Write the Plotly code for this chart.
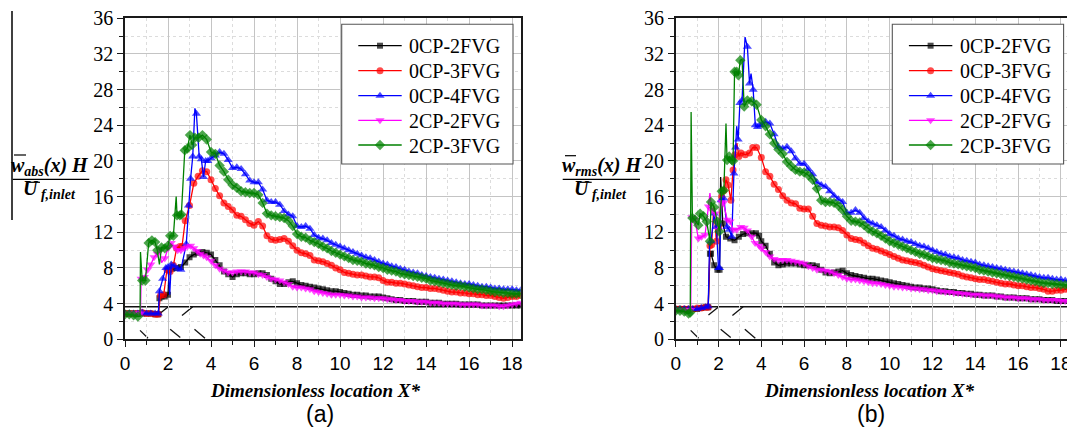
import plotly.graph_objects as go

W, H = 1067, 432

# ---------------------------------------------------------------- data
# common downstream stations (X* = 4.0 ... 18.4)
TAIL_X = [4.0, 4.2, 4.4, 4.6, 4.8, 5.0, 5.2, 5.4, 5.6, 5.8,
          6.0, 6.2, 6.4, 6.6, 6.8, 7.0, 7.2, 7.4, 7.6, 7.8,
          8.0, 8.2, 8.4, 8.6, 8.8, 9.0, 9.2, 9.4, 9.6, 9.8,
          10.0, 10.2, 10.4, 10.6, 10.8, 11.0, 11.2, 11.4, 11.6, 11.8,
          12.0, 12.2, 12.4, 12.6, 12.8, 13.0, 13.2, 13.4, 13.6, 13.8,
          14.0, 14.2, 14.4, 14.6, 14.8, 15.0, 15.2, 15.4, 15.6, 15.8,
          16.0, 16.2, 16.4, 16.6, 16.8, 17.0, 17.2, 17.4, 17.6, 17.8,
          18.0, 18.2, 18.4]

LABELS = ["0CP-2FVG", "0CP-3FVG", "0CP-4FVG", "2CP-2FVG", "2CP-3FVG"]

# ---- panel (a): w_abs
A_BLACK_HX = [0.0, 0.2, 0.4, 0.6, 0.8, 1.0, 1.2, 1.4, 1.55, 1.6, 1.7, 1.85, 2.0, 2.05, 2.2, 2.4, 2.6, 2.8, 3.0, 3.2, 3.4, 3.6, 3.8]
A_BLACK_HY = [2.9, 2.9, 2.9, 2.9, 2.9, 2.9, 2.9, 2.8, 2.8, 4.6, 4.8, 4.8, 5.0, 7.8, 7.9, 8.0, 8.1, 8.6, 9.2, 9.5, 9.7, 9.8, 9.7]
A_BLACK_TY = [9.5, 8.9, 8.3, 7.6, 7.3, 7.0, 7.3, 7.4, 7.4, 7.3,
              7.3, 7.4, 7.4, 7.2, 6.8, 6.5, 6.2, 6.2, 6.4, 6.5,
              6.3, 6.1, 6.0, 5.9, 5.8, 5.7, 5.6, 5.5, 5.4, 5.4,
              5.3, 5.2, 5.1, 5.0, 5.0, 4.9, 4.9, 4.8, 4.8, 4.8,
              4.7, 4.6, 4.5, 4.4, 4.4, 4.3, 4.3, 4.3, 4.2, 4.2,
              4.2, 4.1, 4.1, 4.1, 4.0, 4.0, 4.0, 4.0, 3.9, 3.9,
              3.9, 3.9, 3.9, 3.8, 3.8, 3.8, 3.8, 3.8, 3.8, 3.8,
              3.8, 3.8, 3.8]
A_BLACK_BARE = []

A_RED_HX = [0.0, 0.2, 0.4, 0.6, 0.8, 1.0, 1.2, 1.4, 1.55, 1.65, 1.8, 1.95, 2.1, 2.25, 2.4, 2.55, 2.65, 2.8, 3.0, 3.2, 3.4, 3.6, 3.8]
A_RED_HY = [2.9, 2.9, 2.9, 2.9, 3.0, 2.9, 2.9, 2.8, 2.8, 4.9, 5.0, 7.8, 7.6, 8.3, 10.2, 10.4, 10.4, 13.3, 15.0, 17.5, 18.3, 18.9, 18.8]
A_RED_TY = [17.9, 16.9, 16.1, 15.3, 14.9, 14.5, 13.9, 13.8, 13.4, 13.0,
            12.8, 13.2, 12.7, 11.6, 11.2, 11.1, 11.2, 11.3, 11.0, 10.5,
            10.0, 9.7, 9.6, 9.4, 8.9, 8.8, 8.7, 8.5, 8.3, 8.0,
            7.8, 7.5, 7.4, 7.3, 7.2, 7.2, 7.1, 7.0, 7.0, 6.9,
            6.6, 6.4, 6.4, 6.3, 6.3, 6.2, 6.1, 6.0, 5.9, 5.8,
            5.8, 5.7, 5.7, 5.6, 5.5, 5.4, 5.3, 5.3, 5.2, 5.2,
            5.1, 5.1, 5.0, 5.0, 4.9, 4.9, 4.8, 4.7, 4.6, 4.7,
            4.8, 4.8, 4.9]
A_RED_BARE = []

A_BLUE_HX = [0.0, 0.2, 0.4, 0.6, 0.8, 1.0, 1.2, 1.4, 1.55, 1.6, 1.75, 1.9, 2.0, 2.08, 2.15, 2.3, 2.45, 2.6, 2.85, 2.95, 3.05, 3.15, 3.25, 3.32, 3.45, 3.55, 3.65, 3.75, 3.85]
A_BLUE_HY = [2.9, 2.9, 2.9, 2.9, 3.0, 2.9, 2.9, 2.9, 2.9, 5.4, 6.8, 8.0, 8.1, 5.0, 8.4, 8.2, 7.9, 7.8, 10.7, 15.0, 18.0, 20.5, 25.9, 25.3, 20.5, 20.2, 18.2, 20.0, 20.0]
A_BLUE_TY = [20.3, 20.6, 21.0, 20.8, 20.1, 19.2, 19.3, 19.1, 18.5, 17.8,
             17.6, 17.6, 16.8, 15.6, 15.4, 15.4, 15.1, 14.4, 14.0, 13.8,
             12.7, 12.6, 12.7, 12.4, 11.7, 11.4, 11.3, 11.1, 10.8, 10.6,
             10.4, 10.2, 10.0, 9.8, 9.6, 9.4, 9.2, 9.1, 8.9, 8.7,
             8.5, 8.4, 8.2, 8.1, 7.9, 7.8, 7.6, 7.5, 7.4, 7.2,
             7.1, 7.0, 6.9, 6.8, 6.7, 6.6, 6.5, 6.4, 6.3, 6.2,
             6.2, 6.1, 6.0, 5.9, 5.9, 5.8, 5.7, 5.7, 5.6, 5.6,
             5.6, 5.5, 5.5]
A_BLUE_BARE = [3.25, 2.08]

A_MAGENTA_HX = [0.0, 0.2, 0.4, 0.6, 0.72, 0.75, 0.9, 1.05, 1.2, 1.35, 1.5, 1.6, 1.7, 1.85, 2.0, 2.15, 2.3, 2.45, 2.6, 2.75, 2.9, 3.05, 3.2, 3.35, 3.5, 3.65, 3.8]
A_MAGENTA_HY = [2.9, 2.9, 2.9, 2.9, 2.9, 6.8, 7.0, 7.8, 8.4, 9.2, 9.6, 10.1, 8.6, 9.1, 10.2, 10.8, 10.4, 10.0, 10.0, 10.2, 10.4, 10.5, 10.2, 9.9, 9.6, 9.4, 9.2]
A_MAGENTA_TY = [8.8, 8.3, 7.9, 7.7, 7.5, 7.5, 7.6, 7.6, 7.6, 7.5,
                7.5, 7.3, 7.2, 7.0, 6.8, 6.7, 6.6, 6.4, 6.2, 5.9,
                5.8, 5.8, 5.7, 5.6, 5.4, 5.3, 5.2, 5.1, 5.0, 5.0,
                5.0, 4.9, 4.9, 4.8, 4.8, 4.7, 4.7, 4.7, 4.6, 4.6,
                4.6, 4.5, 4.5, 4.4, 4.4, 4.3, 4.3, 4.3, 4.2, 4.2,
                4.2, 4.1, 4.1, 4.1, 4.0, 4.0, 4.0, 4.0, 3.9, 3.9,
                3.9, 3.9, 3.9, 3.8, 3.8, 3.8, 3.8, 3.7, 3.7, 3.8,
                3.9, 4.0, 4.1]
A_MAGENTA_BARE = [1.7]

A_GREEN_HX = [0.0, 0.2, 0.4, 0.6, 0.7, 0.72, 0.8, 0.95, 1.1, 1.25, 1.4, 1.5, 1.6, 1.7, 1.85, 2.0, 2.1, 2.25, 2.38, 2.42, 2.55, 2.62, 2.78, 2.9, 3.02, 3.12, 3.25, 3.42, 3.6, 3.8]
A_GREEN_HY = [2.8, 2.8, 2.7, 2.55, 2.6, 9.8, 6.6, 6.6, 10.8, 11.1, 10.9, 10.0, 8.4, 10.3, 10.2, 10.5, 11.6, 11.6, 16.0, 13.9, 13.9, 14.0, 21.2, 21.4, 22.9, 21.8, 22.6, 22.6, 22.9, 22.4]
A_GREEN_TY = [21.0, 20.8, 19.5, 18.8, 17.9, 17.3, 17.0, 16.6, 16.5, 16.4,
              16.4, 16.2, 15.3, 14.1, 13.9, 13.8, 13.7, 13.6, 13.3, 12.7,
              11.8, 11.5, 11.4, 11.1, 10.9, 10.7, 10.4, 10.2, 9.9, 9.7,
              9.5, 9.3, 9.1, 8.9, 8.8, 8.7, 8.5, 8.4, 8.3, 8.1,
              8.0, 7.8, 7.7, 7.6, 7.4, 7.3, 7.2, 7.1, 7.0, 6.9,
              6.8, 6.6, 6.5, 6.4, 6.3, 6.2, 6.1, 6.0, 6.0, 5.9,
              5.8, 5.7, 5.6, 5.6, 5.5, 5.4, 5.3, 5.3, 5.2, 5.2,
              5.1, 5.1, 5.1]
A_GREEN_BARE = [0.7, 0.72, 1.6, 2.38]

# ---- panel (b): w_rms
B_BLACK_HX = [0.0, 0.2, 0.4, 0.6, 0.8, 1.0, 1.2, 1.4, 1.52, 1.6, 1.65, 1.8, 1.95, 2.05, 2.1, 2.2, 2.35, 2.55, 2.75, 2.95, 3.15, 3.35, 3.55, 3.75, 3.9]
B_BLACK_HY = [3.4, 3.4, 3.4, 3.4, 3.4, 3.4, 3.5, 3.6, 3.6, 9.6, 9.6, 8.3, 7.8, 7.8, 18.2, 13.0, 11.5, 11.3, 11.1, 11.5, 11.8, 11.9, 11.9, 11.9, 11.6]
B_BLACK_TY = [11.0, 10.5, 9.6, 8.6, 8.3, 8.4, 8.5, 8.5, 8.5, 8.4,
              8.3, 8.3, 8.3, 8.2, 7.8, 7.5, 7.4, 7.5, 7.6, 7.7,
              7.4, 7.2, 7.1, 7.0, 6.9, 6.8, 6.8, 6.7, 6.6, 6.5,
              6.4, 6.3, 6.2, 6.1, 6.0, 5.9, 5.8, 5.8, 5.7, 5.7,
              5.6, 5.5, 5.4, 5.4, 5.3, 5.3, 5.2, 5.2, 5.1, 5.1,
              5.0, 5.0, 4.9, 4.9, 4.9, 4.8, 4.8, 4.7, 4.7, 4.7,
              4.6, 4.6, 4.6, 4.5, 4.5, 4.5, 4.4, 4.4, 4.4, 4.3,
              4.3, 4.3, 4.3]
B_BLACK_BARE = [2.1]

B_RED_HX = [0.0, 0.2, 0.4, 0.6, 0.8, 1.0, 1.2, 1.4, 1.52, 1.6, 1.68, 1.78, 1.9, 2.0, 2.15, 2.25, 2.35, 2.45, 2.58, 2.68, 2.77, 2.86, 2.95, 3.05, 3.25, 3.45, 3.6, 3.78]
B_RED_HY = [3.4, 3.4, 3.4, 3.4, 3.4, 3.5, 3.5, 3.6, 3.6, 10.5, 10.6, 15.0, 11.0, 12.5, 16.0, 16.7, 17.9, 17.3, 15.6, 19.0, 20.7, 22.0, 20.5, 20.9, 20.7, 20.9, 21.5, 21.5]
B_RED_TY = [20.4, 18.8, 18.3, 17.4, 16.8, 16.1, 15.6, 15.3, 15.2, 14.7,
            14.6, 14.6, 13.8, 13.0, 12.8, 12.7, 12.6, 12.6, 12.5, 12.2,
            11.7, 11.3, 11.2, 11.1, 10.8, 10.5, 10.2, 10.1, 9.9, 9.7,
            9.5, 9.3, 9.1, 8.9, 8.8, 8.7, 8.6, 8.5, 8.3, 8.1,
            7.9, 7.8, 7.7, 7.6, 7.5, 7.4, 7.3, 7.1, 7.0, 6.9,
            6.8, 6.7, 6.7, 6.6, 6.5, 6.4, 6.3, 6.2, 6.2, 6.1,
            6.0, 6.0, 5.9, 5.8, 5.8, 5.7, 5.6, 5.4, 5.4, 5.5,
            5.5, 5.6, 5.6]
B_RED_BARE = [1.78, 2.86]

B_BLUE_HX = [0.0, 0.2, 0.4, 0.6, 0.8, 1.0, 1.2, 1.4, 1.52, 1.58, 1.65, 1.8, 1.9, 2.0, 2.05, 2.12, 2.25, 2.4, 2.5, 2.62, 2.72, 2.8, 2.85, 2.92, 3.0, 3.1, 3.24, 3.35, 3.45, 3.52, 3.62, 3.72, 3.82, 3.92]
B_BLUE_HY = [3.4, 3.4, 3.4, 3.4, 3.4, 3.4, 3.5, 3.6, 3.7, 10.5, 11.0, 14.1, 12.6, 8.0, 8.0, 15.6, 15.8, 12.6, 12.3, 11.5, 18.6, 21.5, 23.9, 22.4, 26.5, 26.8, 33.9, 32.8, 28.7, 29.8, 28.0, 24.0, 23.8, 24.0]
B_BLUE_TY = [24.0, 24.4, 24.2, 23.0, 21.6, 21.4, 21.6, 21.1, 20.3, 19.7,
             19.7, 19.1, 18.5, 17.6, 17.3, 17.1, 16.6, 16.1, 15.7, 15.4,
             14.2, 14.2, 14.5, 14.2, 13.6, 13.2, 13.0, 12.8, 12.6, 12.2,
             11.8, 11.6, 11.3, 11.2, 11.0, 10.9, 10.7, 10.5, 10.4, 10.2,
             10.0, 9.8, 9.6, 9.5, 9.3, 9.2, 9.1, 8.9, 8.8, 8.7,
             8.6, 8.4, 8.3, 8.2, 8.1, 8.0, 7.9, 7.8, 7.7, 7.6,
             7.5, 7.4, 7.3, 7.2, 7.1, 7.0, 6.9, 6.9, 6.8, 6.7,
             6.7, 6.6, 6.6]
B_BLUE_BARE = [1.58, 2.85, 3.24, 3.52]

B_MAGENTA_HX = [0.0, 0.2, 0.4, 0.6, 0.7, 0.75, 0.9, 1.06, 1.21, 1.37, 1.53, 1.6, 1.68, 1.84, 2.0, 2.15, 2.23, 2.41, 2.54, 2.69, 2.85, 3.04, 3.2, 3.35, 3.55, 3.71, 3.9]
B_MAGENTA_HY = [3.3, 3.3, 3.3, 3.3, 3.3, 13.7, 13.4, 11.3, 11.5, 11.7, 14.9, 16.4, 14.5, 14.1, 12.3, 15.4, 15.3, 13.4, 13.2, 12.3, 12.3, 12.6, 12.5, 12.2, 11.5, 10.8, 10.5]
B_MAGENTA_TY = [10.2, 9.8, 9.3, 9.0, 8.9, 8.9, 8.9, 8.8, 8.7, 8.6,
                8.5, 8.2, 8.0, 7.8, 7.8, 7.7, 7.6, 7.4, 7.2, 7.0,
                6.8, 6.7, 6.7, 6.6, 6.5, 6.4, 6.3, 6.3, 6.2, 6.1,
                6.0, 5.9, 5.9, 5.8, 5.8, 5.7, 5.7, 5.6, 5.6, 5.5,
                5.5, 5.4, 5.4, 5.3, 5.3, 5.2, 5.2, 5.1, 5.1, 5.0,
                5.0, 5.0, 4.9, 4.9, 4.9, 4.8, 4.8, 4.7, 4.7, 4.7,
                4.6, 4.6, 4.6, 4.5, 4.5, 4.5, 4.4, 4.4, 4.4, 4.4,
                4.3, 4.3, 4.3]
B_MAGENTA_BARE = [1.6]

B_GREEN_HX = [0.0, 0.2, 0.4, 0.6, 0.68, 0.72, 0.78, 0.9, 1.06, 1.14, 1.3, 1.45, 1.6, 1.65, 1.8, 1.95, 2.04, 2.15, 2.25, 2.35, 2.4, 2.5, 2.62, 2.68, 2.75, 2.85, 2.93, 3.02, 3.1, 3.2, 3.35, 3.55, 3.78]
B_GREEN_HY = [3.2, 3.2, 3.1, 2.9, 3.0, 25.5, 13.6, 13.4, 12.8, 14.1, 13.8, 13.2, 11.0, 15.4, 14.8, 13.2, 12.1, 16.6, 16.7, 24.2, 20.1, 20.5, 20.1, 20.0, 30.0, 30.0, 29.6, 31.3, 31.4, 26.1, 26.8, 26.7, 26.3]
B_GREEN_TY = [24.6, 23.9, 23.0, 22.0, 21.3, 20.8, 19.9, 19.4, 19.0, 18.8,
              18.7, 18.4, 17.9, 16.9, 15.6, 15.4, 15.4, 15.3, 15.0, 14.5,
              13.8, 13.3, 13.2, 13.1, 12.8, 12.4, 12.1, 11.9, 11.6, 11.3,
              11.0, 10.8, 10.6, 10.4, 10.2, 10.0, 9.8, 9.6, 9.5, 9.3,
              9.1, 9.0, 8.9, 8.8, 8.6, 8.5, 8.4, 8.3, 8.2, 8.1,
              8.0, 7.8, 7.7, 7.6, 7.5, 7.4, 7.3, 7.2, 7.1, 7.0,
              6.9, 6.8, 6.7, 6.6, 6.5, 6.4, 6.3, 6.3, 6.2, 6.2,
              6.1, 6.1, 6.0]
B_GREEN_BARE = [0.72, 2.35, 3.1]

# channel / generator sketch along the lower wall (X*, value) pairs
WALL_LEVEL = 3.65
SKETCH_BACK = [((0.70, 1.00), (1.07, 0.12)), ((2.10, 1.12), (2.57, 0.20)), ((3.23, 1.12), (3.72, 0.11))]
SKETCH_FWD = [((1.53, 2.72), (2.00, 3.62)), ((2.65, 2.66), (3.15, 3.66))]

# ---------------------------------------------------------------- styling
COLORS = ["#000000", "#ff0000", "#0000ff", "#ff00ff", "#008000"]
SYMBOLS = ["square", "circle", "triangle-up", "triangle-down", "diamond"]
MSIZE = [6, 7, 8, 8, 8]
SERIF = "Liberation Serif, Times New Roman, serif"
SANS = "Liberation Sans, Arial, sans-serif"

PANELS = {
    "a": [(A_BLACK_HX, A_BLACK_HY, A_BLACK_TY, A_BLACK_BARE),
          (A_RED_HX, A_RED_HY, A_RED_TY, A_RED_BARE),
          (A_BLUE_HX, A_BLUE_HY, A_BLUE_TY, A_BLUE_BARE),
          (A_MAGENTA_HX, A_MAGENTA_HY, A_MAGENTA_TY, A_MAGENTA_BARE),
          (A_GREEN_HX, A_GREEN_HY, A_GREEN_TY, A_GREEN_BARE)],
    "b": [(B_BLACK_HX, B_BLACK_HY, B_BLACK_TY, B_BLACK_BARE),
          (B_RED_HX, B_RED_HY, B_RED_TY, B_RED_BARE),
          (B_BLUE_HX, B_BLUE_HY, B_BLUE_TY, B_BLUE_BARE),
          (B_MAGENTA_HX, B_MAGENTA_HY, B_MAGENTA_TY, B_MAGENTA_BARE),
          (B_GREEN_HX, B_GREEN_HY, B_GREEN_TY, B_GREEN_BARE)],
}

fig = go.Figure()

for key, axes in (("a", ("x", "y")), ("b", ("x2", "y2"))):
    for i, (hx, hy, ty, bare) in enumerate(PANELS[key]):
        assert len(ty) == len(TAIL_X)
        xs = hx + TAIL_X
        ys = hy + ty
        sizes = [0 if x in bare else MSIZE[i] for x in hx] + [MSIZE[i]] * len(TAIL_X)
        fig.add_trace(go.Scatter(
            x=xs, y=ys, mode="lines+markers", xaxis=axes[0], yaxis=axes[1], name=LABELS[i],
            line=dict(color=COLORS[i], width=1.3),
            marker=dict(symbol=SYMBOLS[i], size=sizes, color=COLORS[i], line=dict(width=0)),
            showlegend=False, hoverinfo="skip"))

# ---------------------------------------------------------------- pixel helpers
def px_x(p):
    return p / W


def px_y(p):
    return 1 - p / H


# ---------------------------------------------------------------- legend boxes
# drawn on a pixel-space overlay (x3/y3) so the sample line length matches the figure style
LEGEND_LEFT = [341.7, 892.3]
LEGEND_TOP, LEGEND_BOTTOM, LEGEND_W = 24.3, 164.0, 171.3
LEGEND_ROWS = [45.7, 70.7, 95.7, 120.3, 145.0]

legend_shapes = []
legend_annots = []
for left in LEGEND_LEFT:
    legend_shapes.append(dict(type="rect", xref="x3", yref="y3", x0=left, x1=left + LEGEND_W,
                              y0=LEGEND_TOP, y1=LEGEND_BOTTOM, fillcolor="white",
                              line=dict(color="#555555", width=1.1), layer="below"))
    for i, row in enumerate(LEGEND_ROWS):
        fig.add_trace(go.Scatter(
            x=[left + 16.6, left + 38.3, left + 60.0], y=[row, row, row], mode="lines+markers",
            xaxis="x3", yaxis="y3", showlegend=False, hoverinfo="skip",
            line=dict(color=COLORS[i], width=1.3),
            marker=dict(symbol=SYMBOLS[i], size=[0, MSIZE[i], 0], color=COLORS[i], line=dict(width=0))))
        legend_annots.append(dict(xref="paper", yref="paper", x=px_x(left + 65.5), y=px_y(row + 0.5),
                                  xanchor="left", yanchor="middle", showarrow=False, text=LABELS[i],
                                  font=dict(family=SERIF, size=20, color="black")))

# ---------------------------------------------------------------- axes
Y_DOM = [px_y(339.3), px_y(18.3)]


def xaxis(domain, rng, anchor):
    return dict(domain=domain, range=rng, dtick=2, tick0=0, anchor=anchor, showline=True,
                linecolor="#1a1a1a", linewidth=1.6, mirror=True, ticks="outside", ticklen=6,
                tickwidth=1.3, tickcolor="#1a1a1a", showgrid=True, gridcolor="#c4c4c4", gridwidth=1,
                zeroline=False, tickfont=dict(family=SANS, size=19, color="black"),
                automargin=False, ticklabeloverflow="allow",
                minor=dict(dtick=1, ticks="outside", ticklen=4, tickcolor="#1a1a1a",
                           showgrid=True, gridcolor="#dcdcdc", griddash="dot", gridwidth=1),
                fixedrange=True)


def yaxis(anchor, mirror):
    return dict(domain=Y_DOM, range=[0, 36], dtick=4, tick0=0, anchor=anchor, showline=True,
                linecolor="#1a1a1a", linewidth=1.6, mirror=mirror, ticks="outside", ticklen=6,
                tickwidth=1.3, tickcolor="#1a1a1a", showgrid=True, gridcolor="#c4c4c4",
                gridwidth=1, zeroline=False, tickfont=dict(family=SERIF, size=20, color="black"),
                automargin=False,
                minor=dict(dtick=2, ticks="outside", ticklen=4, tickcolor="#1a1a1a",
                           showgrid=True, gridcolor="#dcdcdc", griddash="dot", gridwidth=1),
                fixedrange=True)


XA_RANGE = [0, 18.4]
XB_RANGE = [0, (W - 675.7) / 21.4]

fig.update_layout(
    width=W, height=H, margin=dict(l=0, r=0, t=0, b=0, pad=0, autoexpand=False), autosize=False,
    paper_bgcolor="white", plot_bgcolor="rgba(0,0,0,0)", showlegend=False,
    xaxis=xaxis([px_x(125), px_x(520.7)], XA_RANGE, "y"),
    yaxis=yaxis("x", True),
    xaxis2=xaxis([px_x(675.7), 1.0], XB_RANGE, "y2"),
    yaxis2=yaxis("x2", False),
    xaxis3=dict(domain=[0, 1], range=[0, W], anchor="y3", visible=False, fixedrange=True,
                automargin=False),
    yaxis3=dict(domain=[0, 1], range=[H, 0], anchor="x3", visible=False, fixedrange=True,
                automargin=False),
)

# ---------------------------------------------------------------- wall line and sketch marks
shapes = []
for xr, yr in (("x", "y"), ("x2", "y2")):
    shapes.append(dict(type="line", xref=f"{xr} domain", yref=yr, x0=0, x1=1,
                       y0=WALL_LEVEL, y1=WALL_LEVEL, line=dict(color="#111111", width=1.3),
                       layer="below"))
    for (x0, y0), (x1, y1) in SKETCH_BACK + SKETCH_FWD:
        shapes.append(dict(type="line", xref=xr, yref=yr, x0=x0, y0=y0, x1=x1, y1=y1,
                           line=dict(color="#111111", width=1.3), layer="below"))


def pline(x0, y0, x1, y1, w=1.3):
    return dict(type="line", xref="paper", yref="paper", x0=px_x(x0), x1=px_x(x1),
                y0=px_y(y0), y1=px_y(y1), line=dict(color="black", width=w))


# fraction bars and overbars of the ordinate labels
shapes += [
    pline(12, 11, 12, 220, 1.5),
    pline(12.7, 179.3, 89.3, 179.3, 1.2), pline(14, 155, 26, 155, 1.2), pline(28.3, 182.3, 40, 182.3, 1.2),
    pline(562.7, 179.3, 640, 179.3, 1.2), pline(565, 155.7, 576, 155.7, 1.2), pline(580, 182.3, 591.7, 182.3, 1.2),
]
fig.update_layout(shapes=shapes + legend_shapes)


def label(x, y, text, font, size, xanchor="center"):
    return dict(xref="paper", yref="paper", x=px_x(x), y=px_y(y), text=text, showarrow=False,
                xanchor=xanchor, yanchor="middle", font=dict(family=font, size=size, color="black"))


def bi(s):
    return f"<b><i>{s}</i></b>"


annotations = [
    label(50, 166, bi("w") + "<sub>" + bi("abs") + "</sub>" + bi("(x) H"), SERIF, 20),
    label(49, 189, bi("U") + "<sub>" + bi(" f,inlet") + "</sub>", SERIF, 20),
    label(601.5, 166, bi("w") + "<sub>" + bi("rms") + "</sub>" + bi("(x) H"), SERIF, 20),
    label(600.5, 189, bi("U") + "<sub>" + bi(" f,inlet") + "</sub>", SERIF, 20),
    label(315, 390, bi("Dimensionless location X*"), SERIF, 19),
    label(869, 390, bi("Dimensionless location X*"), SERIF, 19),
    label(320, 414, "(a)", SANS, 23),
    label(871, 414, "(b)", SANS, 23),
]
fig.update_layout(annotations=annotations + legend_annots)

fig.write_html("out.html")
